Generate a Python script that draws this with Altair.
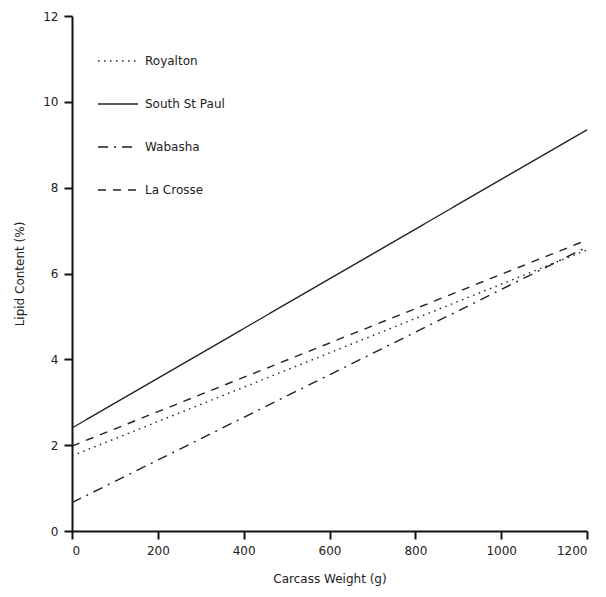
import altair as alt
import pandas as pd

sites = ["Royalton", "South St Paul", "Wabasha", "La Crosse"]
weights = [0, 1200]
lipid_start = [1.75, 2.4, 0.66, 1.98]
lipid_end = [6.55, 9.35, 6.62, 6.78]

rows = []
for s, a, b in zip(sites, lipid_start, lipid_end):
    rows.append({"site": s, "weight": weights[0], "lipid": a})
    rows.append({"site": s, "weight": weights[1], "lipid": b})
df = pd.DataFrame(rows)

dashes = [[1.5, 4.5], [1, 0], [10, 6, 2, 6], [8, 7]]
FONT = "DejaVu Sans"

chart = alt.Chart(df).mark_line(strokeWidth=1.4, color="#222222").encode(
    x=alt.X("weight:Q", title="Carcass Weight (g)",
            scale=alt.Scale(domain=[0, 1200], nice=False),
            axis=alt.Axis(values=[0, 200, 400, 600, 800, 1000, 1200], format="d", titlePadding=17)),
    y=alt.Y("lipid:Q", title="Lipid Content (%)",
            scale=alt.Scale(domain=[0, 12], nice=False),
            axis=alt.Axis(values=[0, 2, 4, 6, 8, 10, 12], format="d", titlePadding=16)),
    strokeDash=alt.StrokeDash("site:N", scale=alt.Scale(domain=sites, range=dashes),
                              sort=sites,
                              legend=alt.Legend(title=None, orient="none", legendX=25, legendY=24,
                                                symbolType="stroke", symbolSize=1600,
                                                symbolStrokeWidth=1.4, symbolStrokeColor="#222222",
                                                labelFontSize=12, labelFont=FONT, labelColor="#222222",
                                                rowPadding=16, padding=0, labelOffset=6)),
    detail="site:N",
).properties(
    width=515, height=515,
    autosize=alt.AutoSizeParams(type="none"),
    padding={"left": 72, "top": 16, "right": 19, "bottom": 66},
).configure_view(stroke=None).configure_axis(
    grid=False, domainColor="#111111", domainWidth=2, tickColor="#111111", tickWidth=2,
    tickSize=8, labelFont=FONT, labelFontSize=12, labelColor="#222222",
    titleFont=FONT, titleFontSize=12, titleFontWeight="normal", titleColor="#222222",
    labelPadding=6,
)

chart.save("out.html", embed_options={"renderer": "svg", "actions": False})
